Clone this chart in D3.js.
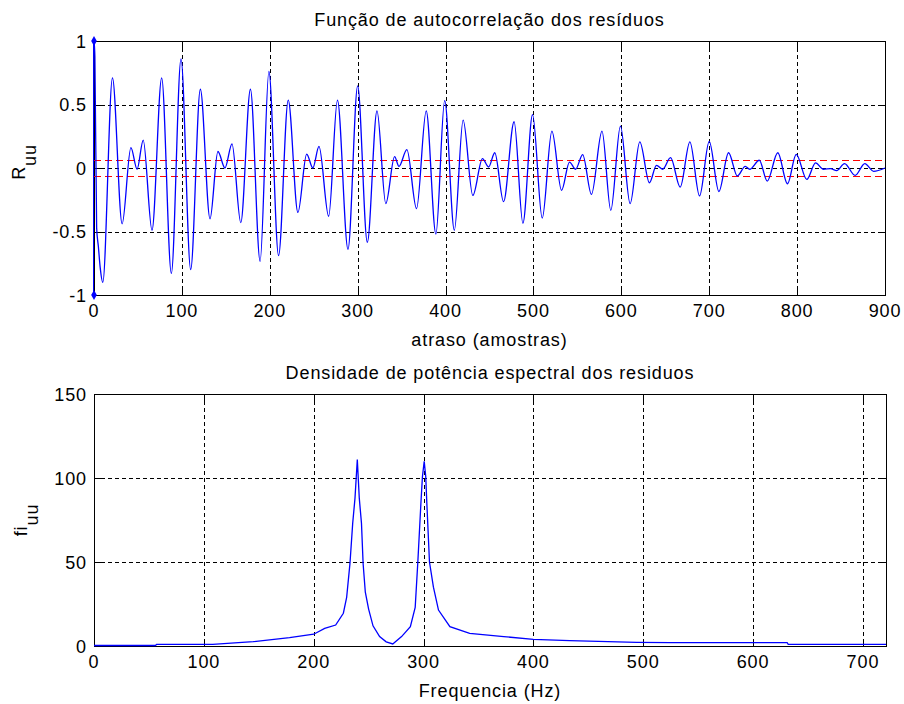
<!DOCTYPE html>
<html>
<head>
<meta charset="utf-8">
<script src="https://cdn.jsdelivr.net/npm/d3@7"></script>
<style>
  html, body { margin: 0; padding: 0; background: #ffffff; }
  svg { display: block; }
  text { font-family: "Liberation Sans", Arial, sans-serif; fill: #000; }
</style>
</head>
<body>
<svg id="fig" width="904" height="704"></svg>
<script>
// Autocorrelation of the residuals: lag (samples) and value at each turning point
const lags = [0, 1, 3, 5, 7, 10, 21, 32, 42, 49, 56, 66, 77, 88, 99, 110, 121, 132, 141, 149, 157, 167,
  178, 189, 199, 210, 221, 232, 242, 249, 256, 267, 277, 289, 300, 311, 322, 332, 342, 347, 356, 367,
  378, 389, 399, 410, 420, 431, 442, 449, 456, 466, 478, 488, 499, 510, 521, 532, 541, 548, 556, 566,
  578, 588, 599, 610, 621, 632, 640, 647, 656, 667, 678, 689, 700, 711, 722, 732, 741, 746, 757, 766,
  778, 789, 799, 811, 821, 830, 838, 845, 854, 866, 877, 887, 900];
const acf = [1, 0.88, -0.47, -0.62, -0.78, -0.9, 0.71, -0.44, 0.16, -0.01, 0.22, -0.49, 0.71, -0.83,
  0.86, -0.8, 0.62, -0.4, 0.13, 0.0, 0.19, -0.43, 0.62, -0.735, 0.76, -0.69, 0.535, -0.35, 0.11, 0.0,
  0.17, -0.38, 0.535, -0.64, 0.646, -0.585, 0.45, -0.28, 0.09, 0.013, 0.145, -0.32, 0.45, -0.52, 0.53,
  -0.49, 0.377, -0.216, 0.074, 0.008, 0.12, -0.265, 0.364, -0.435, 0.42, -0.395, 0.29, -0.176, 0.047,
  -0.01, 0.106, -0.208, 0.29, -0.334, 0.33, -0.28, 0.206, -0.116, 0.021, -0.01, 0.082, -0.15, 0.206,
  -0.22, 0.21, -0.185, 0.12, -0.063, 0.013, -0.01, 0.061, -0.103, 0.12, -0.124, 0.108, -0.09, 0.04,
  -0.01, -0.005, -0.02, 0.035, -0.058, 0.035, -0.026, 0.0];
// confidence band of the autocorrelation
const confBound = 0.063;
// marker ends drawn at lag 0
const lagZeroMarks = [1, -1];

// Power spectral density of the residuals
const freq = [0, 56, 57, 108, 145, 178, 200, 210, 220, 227, 230, 233, 235.5, 237.6, 239.7, 241.5, 243.5,
  245, 247, 250, 254, 260, 266, 272, 280, 288, 292.4, 294.8, 297.6, 299, 300.6, 302, 303, 305.4, 309,
  313.6, 324, 342, 373, 400, 433, 494, 525, 631, 632, 721];
const psd = [0.3, 0.3, 1.0, 1.0, 2.6, 5, 7, 10.5, 12.5, 19.5, 29, 49, 73, 88, 111, 88, 73, 49, 32, 22,
  12, 5.6, 2.5, 1.2, 5.6, 11.5, 23, 50, 85, 100.8, 110, 100.8, 85, 50, 35, 21.4, 11.5, 7.5, 5.6, 4, 3.2,
  2.2, 2, 2, 1, 1];

// tick values and labels
const topXTicks = [0, 100, 200, 300, 400, 500, 600, 700, 800, 900];
const topYTicks = [-1, -0.5, 0, 0.5, 1];
const topYLabels = ["-1", "-0.5", "0", "0.5", "1"];
const botXTicks = [0, 100, 200, 300, 400, 500, 600, 700];
const botYTicks = [0, 50, 100, 150];

const svg = d3.select("#fig");
const FS = 18;
const LS = 0.9;

function panel(cfg) {
  const g = svg.append("g");
  const x = d3.scaleLinear().domain(cfg.xDomain).range([cfg.left, cfg.right]);
  const y = d3.scaleLinear().domain(cfg.yDomain).range([cfg.bottom, cfg.top]);

  // white plot area
  g.append("rect").attr("x", cfg.left).attr("y", cfg.top)
    .attr("width", cfg.right - cfg.left).attr("height", cfg.bottom - cfg.top).attr("fill", "#fff");

  // dotted grid
  g.append("g").selectAll("line").data(cfg.xTicks).join("line")
    .attr("x1", d => Math.round(x(d)) + 0.5).attr("x2", d => Math.round(x(d)) + 0.5)
    .attr("y1", cfg.top).attr("y2", cfg.bottom)
    .attr("stroke", "#000").attr("stroke-width", 1).attr("stroke-dasharray", "4,3");
  g.append("g").selectAll("line").data(cfg.yTicks).join("line")
    .attr("y1", d => Math.round(y(d)) + 0.5).attr("y2", d => Math.round(y(d)) + 0.5)
    .attr("x1", cfg.left).attr("x2", cfg.right)
    .attr("stroke", "#000").attr("stroke-width", 1).attr("stroke-dasharray", "4,3");

  // box
  g.append("rect").attr("x", cfg.left + 0.5).attr("y", cfg.top + 0.5)
    .attr("width", cfg.right - cfg.left).attr("height", cfg.bottom - cfg.top)
    .attr("fill", "none").attr("stroke", "#000").attr("stroke-width", 1);

  // inward ticks on all four sides
  const tl = 7;
  const ticks = g.append("g").attr("stroke", "#000").attr("stroke-width", 1);
  cfg.xTicks.forEach(d => {
    const px = Math.round(x(d)) + 0.5;
    ticks.append("line").attr("x1", px).attr("x2", px).attr("y1", cfg.bottom).attr("y2", cfg.bottom - tl);
    ticks.append("line").attr("x1", px).attr("x2", px).attr("y1", cfg.top).attr("y2", cfg.top + tl);
  });
  cfg.yTicks.forEach(d => {
    const py = Math.round(y(d)) + 0.5;
    ticks.append("line").attr("y1", py).attr("y2", py).attr("x1", cfg.left).attr("x2", cfg.left + tl);
    ticks.append("line").attr("y1", py).attr("y2", py).attr("x1", cfg.right).attr("x2", cfg.right - tl);
  });

  // tick labels
  g.append("g").selectAll("text").data(cfg.xTicks).join("text")
    .attr("x", d => x(d)).attr("y", cfg.bottom + 22)
    .attr("text-anchor", "middle").attr("font-size", FS).attr("letter-spacing", LS)
    .text(d => String(d));
  g.append("g").selectAll("text").data(cfg.yTicks).join("text")
    .attr("x", cfg.left - 7).attr("y", d => y(d) + 6.5)
    .attr("text-anchor", "end").attr("font-size", FS).attr("letter-spacing", LS)
    .text((d, i) => cfg.yLabels ? cfg.yLabels[i] : String(d));

  // title and x label
  g.append("text").attr("x", (cfg.left + cfg.right) / 2).attr("y", cfg.top - 15)
    .attr("text-anchor", "middle").attr("font-size", FS).attr("letter-spacing", LS).text(cfg.title);
  g.append("text").attr("x", (cfg.left + cfg.right) / 2).attr("y", cfg.bottom + 51)
    .attr("text-anchor", "middle").attr("font-size", FS).attr("letter-spacing", LS).text(cfg.xLabel);

  // y label with subscript
  const yl = g.append("text")
    .attr("transform", `translate(${cfg.yLabelX},${(cfg.top + cfg.bottom) / 2 + cfg.yLabelDy}) rotate(-90)`)
    .attr("text-anchor", "middle").attr("font-size", FS).attr("letter-spacing", LS);
  yl.append("tspan").text(cfg.yLabel[0]);
  yl.append("tspan").attr("dy", 11).text(cfg.yLabel[1]);

  return { g, x, y };
}

// ---- upper panel: autocorrelation ----
const upper = panel({
  left: 94, right: 885, top: 41, bottom: 295,
  xDomain: [0, 900], yDomain: [-1, 1],
  xTicks: topXTicks, yTicks: topYTicks, yLabels: topYLabels,
  title: "Função de autocorrelação dos resíduos",
  xLabel: "atraso (amostras)",
  yLabel: ["R", "uu"], yLabelX: 25, yLabelDy: -6
});

// confidence bounds
upper.g.append("g").selectAll("line").data([confBound, -confBound]).join("line")
  .attr("x1", upper.x(0)).attr("x2", upper.x(900))
  .attr("y1", d => Math.round(upper.y(d)) + 0.5).attr("y2", d => Math.round(upper.y(d)) + 0.5)
  .attr("stroke", "#ff0000").attr("stroke-width", 1.2).attr("stroke-dasharray", "7,4");

// lag-zero segment with diamond ends
upper.g.append("line")
  .attr("x1", upper.x(0) - 0.5).attr("x2", upper.x(0) - 0.5)
  .attr("y1", upper.y(lagZeroMarks[0])).attr("y2", upper.y(lagZeroMarks[1]))
  .attr("stroke", "#0000ff").attr("stroke-width", 1);
upper.g.append("g").selectAll("path").data(lagZeroMarks).join("path")
  .attr("transform", d => `translate(${upper.x(0)},${upper.y(d)})`)
  .attr("d", d3.symbol(d3.symbolDiamond, 28))
  .attr("fill", "#0000ff");

const acfLine = d3.line()
  .x((d, i) => upper.x(lags[i]))
  .y((d, i) => upper.y(acf[i]))
  .curve(d3.curveMonotoneX);
upper.g.append("path").datum(acf).attr("d", acfLine)
  .attr("fill", "none").attr("stroke", "#0000ff").attr("stroke-width", 1.3);

// ---- lower panel: power spectral density ----
const lower = panel({
  left: 94, right: 886, top: 394, bottom: 646,
  xDomain: [0, 721], yDomain: [0, 150],
  xTicks: botXTicks, yTicks: botYTicks,
  title: "Densidade de potência espectral dos residuos",
  xLabel: "Frequencia (Hz)",
  yLabel: ["fi", "uu"], yLabelX: 27, yLabelDy: 0
});

const psdLine = d3.line()
  .x((d, i) => lower.x(freq[i]))
  .y((d, i) => lower.y(psd[i]));
lower.g.append("path").datum(psd).attr("d", psdLine)
  .attr("fill", "none").attr("stroke", "#0000ff").attr("stroke-width", 1.3);
</script>
</body>
</html>
